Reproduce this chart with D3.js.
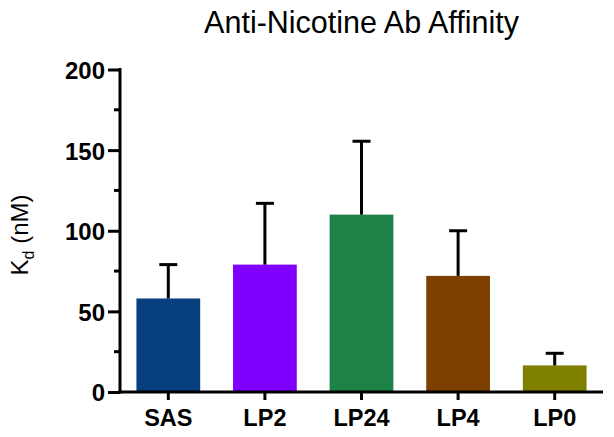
<!DOCTYPE html>
<html>
<head>
<meta charset="utf-8">
<script src="https://cdn.jsdelivr.net/npm/d3@7"></script>
<style>
  body { margin: 0; background: #fff; }
  svg { display: block; font-family: "Liberation Sans", Arial, Helvetica, sans-serif; }
  .axis path, .axis line { stroke: #000; stroke-width: 3px; }
  .axis text { font-weight: bold; fill: #000; }
</style>
</head>
<body>
<div id="chart"></div>
<script>
const groups = ["SAS", "LP2", "LP24", "LP4", "LP0"];
const kdMeans = [58, 79, 110, 72, 16.5];
const kdErrors = [21, 38, 45.5, 28, 7.5];
const barColors = ["#07407f", "#8000ff", "#1e8247", "#7f3f00", "#808000"];
const yTicks = [0, 50, 100, 150, 200];
const yMinorTicks = [25, 75, 125, 175];

const w = 614;
const h = 437;
const plotLeft = 120, plotRight = 603, plotTop = 69.5, plotBottom = 392;

const svg = d3.select("#chart")
    .append("svg")
    .attr("width", w)
    .attr("height", h);

const x = d3.scaleBand()
    .domain(groups)
    .range([plotLeft, plotRight])
    .paddingInner(0.34)
    .paddingOuter(0.17);

const y = d3.scaleLinear()
    .domain([0, 200])
    .range([plotBottom, plotTop]);

// bars
svg.selectAll("rect.bar")
    .data(groups)
    .enter()
    .append("rect")
    .attr("class", "bar")
    .attr("x", d => x(d))
    .attr("width", x.bandwidth())
    .attr("y", (d, i) => y(kdMeans[i]))
    .attr("height", (d, i) => y(0) - y(kdMeans[i]))
    .attr("fill", (d, i) => barColors[i]);

// error bars (upper only)
const err = svg.append("g")
    .attr("stroke", "#000")
    .attr("stroke-width", 3);
groups.forEach((g, i) => {
    const cx = x(g) + x.bandwidth() / 2;
    err.append("line")
        .attr("x1", cx).attr("x2", cx)
        .attr("y1", y(kdMeans[i]))
        .attr("y2", y(kdMeans[i] + kdErrors[i]));
    err.append("line")
        .attr("x1", cx - 9).attr("x2", cx + 9)
        .attr("y1", y(kdMeans[i] + kdErrors[i]))
        .attr("y2", y(kdMeans[i] + kdErrors[i]));
});

// y axis
const yAxis = d3.axisLeft(y)
    .tickValues(yTicks)
    .tickSize(12)
    .tickSizeOuter(0)
    .tickPadding(3);
const yAxisG = svg.append("g")
    .attr("class", "axis")
    .attr("transform", `translate(${plotLeft}, 0)`)
    .call(yAxis);
yAxisG.selectAll("text")
    .style("font-size", "24px")
    .attr("dy", "0.37em");
yAxisG.selectAll(".minor")
    .data(yMinorTicks)
    .enter()
    .append("line")
    .attr("class", "minor")
    .attr("x1", -6).attr("x2", 0)
    .attr("y1", d => y(d)).attr("y2", d => y(d));
yAxisG.select(".domain").attr("d", `M0,${plotTop - 1.5}V${plotBottom + 1.5}`);

// x axis
const xAxis = d3.axisBottom(x)
    .tickSize(8)
    .tickSizeOuter(0)
    .tickPadding(9);
const xAxisG = svg.append("g")
    .attr("class", "axis")
    .attr("transform", `translate(0, ${plotBottom})`)
    .call(xAxis);
xAxisG.selectAll("text")
    .style("font-size", "23.5px");
xAxisG.select(".domain").attr("d", `M${plotLeft - 1.5},0H${plotRight}`);

// title
svg.append("text")
    .attr("x", (plotLeft + plotRight) / 2)
    .attr("y", 33)
    .attr("text-anchor", "middle")
    .style("font-size", "30.5px")
    .text("Anti-Nicotine Ab Affinity");

// y label
const yLabel = svg.append("text")
    .attr("transform", `translate(28, 235) rotate(-90)`)
    .attr("text-anchor", "middle")
    .style("font-size", "24px");
yLabel.append("tspan").text("K");
yLabel.append("tspan").attr("dy", 6).style("font-size", "16px").text("d");
yLabel.append("tspan").attr("dy", -6).text(" (nM)");
</script>
</body>
</html>
